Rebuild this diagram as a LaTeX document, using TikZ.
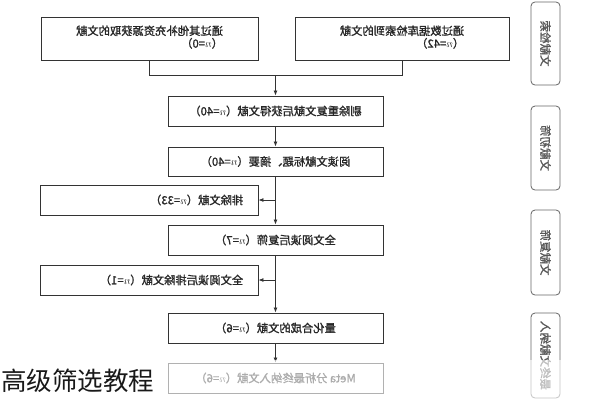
\documentclass[tikz,border=0pt]{standalone}
\usepackage{fontspec}
\usepackage{graphicx}
\newfontfamily\cjk{Noto Sans CJK SC}
\newfontfamily\cjkb[FakeBold=1.2]{Noto Sans CJK SC}
\usetikzlibrary{arrows.meta}
\begin{document}
\begin{tikzpicture}[x=1pt,y=-1pt,
  box/.style={draw=black!80,line width=0.9pt,inner sep=0pt,font=\cjkb\fontsize{11.3}{13}\selectfont,text=black!85},
  lbl/.style={draw=black!60,line width=0.8pt,rounded corners=4pt,inner sep=0pt,font=\cjkb\fontsize{11.5}{13}\selectfont,text=black!65},
  arr/.style={-{Latex[length=5pt,width=4pt]},draw=black!80,line width=0.8pt},
  ln/.style={draw=black!80,line width=0.8pt},
  txt/.style={font=\cjkb\fontsize{11.3}{13}\selectfont,text=black!85,inner sep=0pt}]
\useasboundingbox (0,0) rectangle (600,400);
\fill[white] (0,0) rectangle (600,400);
% top boxes
\node[box,minimum width=217,minimum height=43] (b1) at (149.5,38.5)
  {\reflectbox{\begin{tabular}{@{}l@{}}通过其他补充资源获取的文献\\[-1pt]（$n$=0）\end{tabular}}};
\node[box,minimum width=214,minimum height=43] (b2) at (402,38.5)
  {\reflectbox{\begin{tabular}{@{}l@{}}通过数据库检索到的文献\\[-1pt]（$n$=42）\end{tabular}}};
% main column
\node[box,minimum width=215,minimum height=30] (b3) at (275.5,111) {\reflectbox{剔除重复文献后获得文献（$n$=40）}};
\node[box,minimum width=215,minimum height=29] (b4) at (275.5,161.5) {\reflectbox{阅读文献标题、摘要（$n$=40）}};
\node[box,minimum width=218,minimum height=30] (b5) at (149,200) {};
\node[txt,anchor=east] (t5) at ([xshift=-15pt]b5.east) {\reflectbox{排除文献（$n$=33）}};
\node[box,minimum width=215,minimum height=30] (b6) at (275.5,240) {\reflectbox{全文阅读后复筛（$n$=7）}};
\node[box,minimum width=218,minimum height=30] (b7) at (149,280) {};
\node[txt,anchor=east] (t7) at ([xshift=-15pt]b7.east) {\reflectbox{全文阅读后排除文献（$n$=1）}};
\node[box,minimum width=215,minimum height=30] (b8) at (275.5,328) {\reflectbox{量化合成的文献（$n$=6）}};
\node[box,minimum width=215,minimum height=30] (b9) at (275.5,378) {\reflectbox{Meta 分析最终纳入文献（$n$=6）}};
% connectors
\coordinate (j) at (275.5,75);
\draw[ln] (b1.south) -- (b1.south |- j) -- (b2.south |- j) -- (b2.south);
\draw[arr] (j) -- (b3.north);
\draw[arr] (b3.south) -- (b4.north);
\draw[arr] (b4.south) -- (b6.north);
\draw[arr] (b4.south |- b5.east) -- (b5.east);
\draw[arr] (b6.south) -- (b8.north);
\draw[arr] (b6.south |- b7.east) -- (b7.east);
\draw[arr] (b8.south) -- (b9.north);
% side labels
\node[lbl,rotate=-90,minimum width=83,minimum height=29] (l1) at (545.5,43.5) {\reflectbox{文献检索}};
\node[lbl,rotate=-90,minimum width=84,minimum height=29] (l2) at (545.5,148) {\reflectbox{文献初筛}};
\node[lbl,rotate=-90,minimum width=85,minimum height=29] (l3) at (545.5,252.5) {\reflectbox{文献复筛}};
\node[lbl,rotate=-90,minimum width=85,minimum height=29] (l4) at (545.5,355.5) {\reflectbox{最终文献纳入}};
% fade at bottom
\fill[white,opacity=0.62] (160,360) rectangle (600,400);
% watermark
\node[anchor=west,inner sep=0pt,font=\cjk\fontsize{25.5}{26}\selectfont,text=black!90] (wm) at (1,381) {高级筛选教程};
\end{tikzpicture}
\end{document}
